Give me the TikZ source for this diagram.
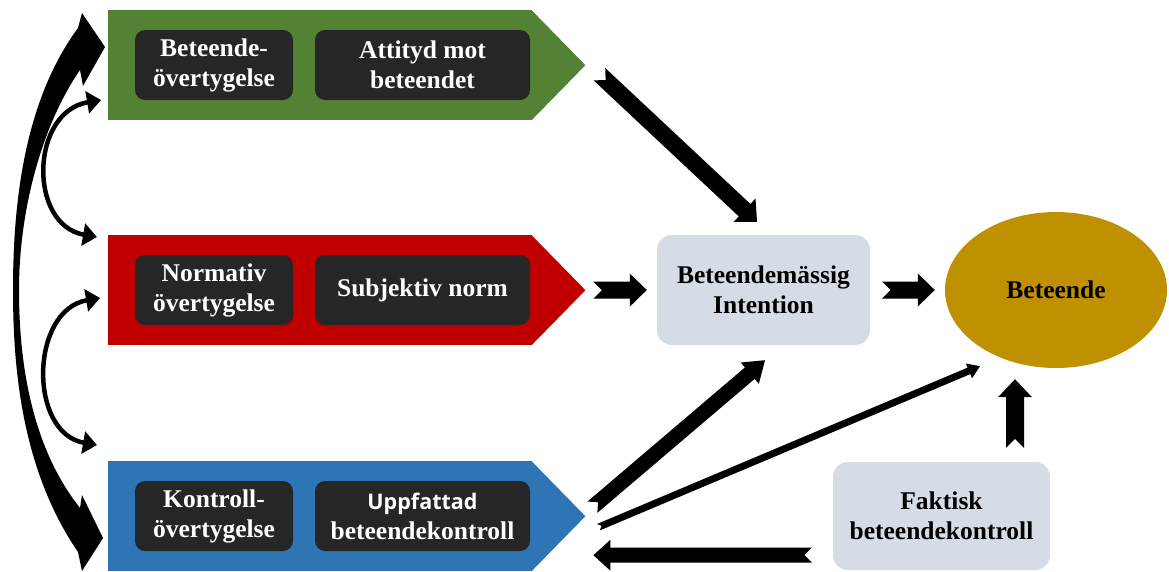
\documentclass[tikz,border=0pt]{standalone}
\usepackage{fontspec}
\setmainfont{Liberation Serif}
\newfontfamily\upfont{Open Sans}
\usetikzlibrary{calc,arrows.meta,shapes.geometric}

\definecolor{attgreen}{HTML}{548235}
\definecolor{normred}{HTML}{C00000}
\definecolor{ctrlblue}{HTML}{2E75B6}
\definecolor{darkbox}{HTML}{262626}
\definecolor{lightbox}{HTML}{D6DCE5}
\definecolor{gold}{HTML}{BF9000}

% block arrow with notched tail: from, to, half shaft, half head, head length
\newcommand{\blockarrow}[5]{%
  \coordinate (hb) at ($(#2)!#5!(#1)$);
  \fill ($(#1)!#3!90:(#2)$) -- ($(hb)!#3!90:(#2)$) -- ($(hb)!#4!90:(#2)$) -- (#2)
    -- ($(hb)!#4!-90:(#2)$) -- ($(hb)!#3!-90:(#2)$) -- ($(#1)!#3!-90:(#2)$)
    -- ($(#1)!#3!(#2)$) -- cycle;
}

\begin{document}
\begin{tikzpicture}[x=1pt,y=-1pt,
    pent/.style={minimum width=424, minimum height=110, anchor=north west, inner sep=0},
    inbox/.style={fill=darkbox, text=white, rounded corners=10, minimum height=70,
      inner sep=0, align=center, font=\fontsize{25.5}{30}\selectfont\bfseries},
    outbox/.style={fill=lightbox, rounded corners=15, inner sep=0, align=center,
      font=\fontsize{25.5}{30}\selectfont\bfseries},
    curv/.style={line width=4.5, {Triangle[width=22,length=14]}-{Triangle[width=22,length=14]}}]

    \useasboundingbox (0,0) rectangle (1169,571);

    % the three beliefs
    \node [pent, fill=attgreen] (att) at (108,10) {};
    \node [pent, fill=normred] (nrm) at (108,235) {};
    \node [pent, fill=ctrlblue] (ktr) at (108,461) {};

    \coordinate (atttip) at ($(att.east)+(53,0)$);
    \coordinate (nrmtip) at ($(nrm.east)+(53,0)$);
    \coordinate (ktrtip) at ($(ktr.east)+(53,0)$);

    \fill [attgreen] ($(att.north east)+(-1,0)$) -- (atttip) -- ($(att.south east)+(-1,0)$) -- cycle;
    \fill [normred] ($(nrm.north east)+(-1,0)$) -- (nrmtip) -- ($(nrm.south east)+(-1,0)$) -- cycle;
    \fill [ctrlblue] ($(ktr.north east)+(-1,0)$) -- (ktrtip) -- ($(ktr.south east)+(-1,0)$) -- cycle;

    \node [inbox, minimum width=158] (att1) at (214,65) {Beteende-\\övertygelse};
    \node [inbox, minimum width=215] (att2) at (422.5,65) {Attityd mot\\beteendet};
    \node [inbox, minimum width=158] (nrm1) at (214,290) {Normativ\\övertygelse};
    \node [inbox, minimum width=215] (nrm2) at (422.5,290) {Subjektiv norm};
    \node [inbox, minimum width=158] (ktr1) at (214,516) {Kontroll-\\övertygelse};
    \node [inbox, minimum width=215] (ktr2) at (422.5,516)
        {{\upfont\fontsize{21.5}{30}\selectfont Uppfattad}\\beteendekontroll};

    % right part
    \node [outbox, minimum width=213, minimum height=110] (int) at (763.5,290) {Beteendemässig\\Intention};
    \node [outbox, minimum width=217, minimum height=108] (fak) at (941.5,516) {Faktisk\\beteendekontroll};
    \node [ellipse, fill=gold, minimum width=222, minimum height=156, inner sep=0,
        font=\fontsize{25.5}{30}\selectfont\bfseries] (bet) at (1056,290) {Beteende};

    \coordinate (a1s) at ($(atttip)+(14,9)$);
    \coordinate (a1e) at ($(int.north)+(-6.5,-13)$);
    \coordinate (a2s) at ($(nrmtip)+(8,0)$);
    \coordinate (a2e) at ($(int.west)+(-10,0)$);
    \coordinate (a3s) at ($(int.east)+(12,0)$);
    \coordinate (a3e) at ($(bet.west)+(-10,0)$);
    \coordinate (a4s) at ($(ktrtip)+(7,-9)$);
    \coordinate (a4e) at ($(int.south)+(1.5,15)$);
    \coordinate (a5s) at ($(ktrtip)+(13,11)$);
    \coordinate (a5e) at ($(bet.south)+(-76,-2)$);
    \coordinate (a6s) at ($(fak.west)+(-21,39)$);
    \coordinate (a6e) at ($(ktrtip)+(8,39)$);
    \coordinate (a7s) at ($(fak.north)+(73.5,-14)$);
    \coordinate (a7e) at ($(bet.south)+(-41,11)$);

    \blockarrow{a1s}{a1e}{8.5pt}{16pt}{17pt}
    \blockarrow{a2s}{a2e}{8.5pt}{16.5pt}{17pt}
    \blockarrow{a3s}{a3e}{8.5pt}{16.5pt}{17pt}
    \blockarrow{a4s}{a4e}{7.5pt}{14pt}{20pt}
    \blockarrow{a5s}{a5e}{3.5pt}{8pt}{12pt}
    \blockarrow{a6s}{a6e}{7.5pt}{15.5pt}{17pt}
    \blockarrow{a7s}{a7e}{9pt}{17pt}{18pt}

    % curved arrows on the left
    \fill (78,28) -- (82,13) -- (105,47) -- (83,86) -- (80,70)
        .. controls (42,125) and (19,210) .. (19,290)
        .. controls (19,380) and (38,455) .. (80,508)
        -- (82,495) -- (103,538) -- (82,571) -- (78,552)
        .. controls (22,470) and (13,370) .. (13,290)
        .. controls (13,200) and (25,100) .. (78,28) -- cycle;

    \draw [curv] (101,100) .. controls (30,112) and (28,225) .. (97,237);
    \draw [curv] (100,298) .. controls (30,310) and (28,433) .. (97,445);
\end{tikzpicture}
\end{document}
